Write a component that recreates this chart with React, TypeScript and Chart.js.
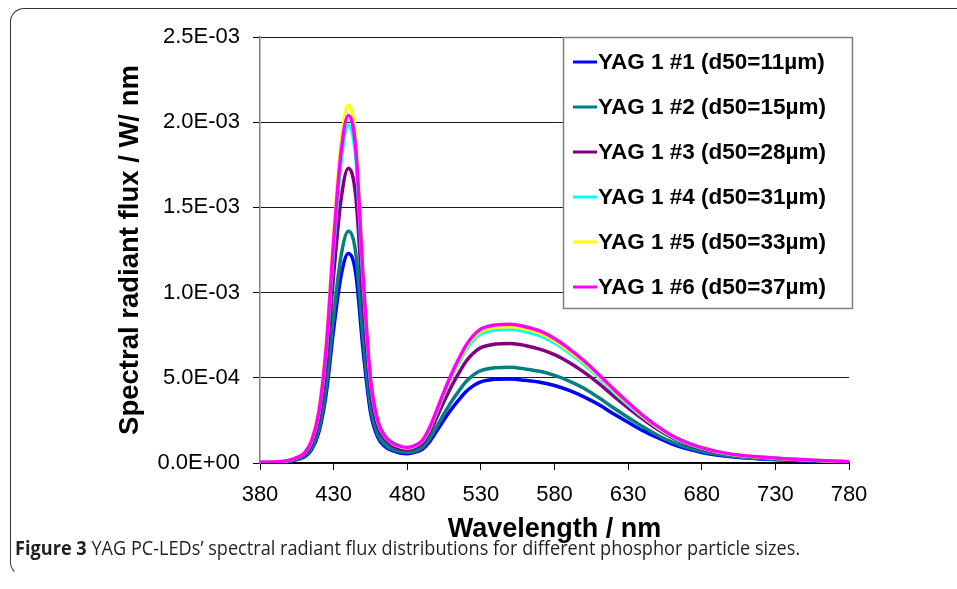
import React, { useEffect, useRef } from "react";
import { Chart, registerables } from "chart.js";

Chart.register(...registerables);

// Wavelength (nm)
const wavelengths = [
  380, 390, 400, 405, 410, 415, 420, 425, 430, 435, 440, 445, 450, 455, 460, 465, 470, 475, 480, 485,
  490, 495, 500, 505, 510, 515, 520, 525, 530, 540, 550, 560, 570, 580, 590, 600, 610, 620, 630, 640,
  650, 660, 670, 680, 690, 700, 720, 740, 760, 780,
];

// Spectral radiant flux, in units of 1E-03 W/nm
const yag1_1 = [
  0.003, 0.004, 0.010, 0.020, 0.035, 0.077, 0.181, 0.409, 0.784, 1.097, 1.230, 1.115, 0.663, 0.301, 0.150, 0.095, 0.072, 0.059, 0.055, 0.062,
  0.079, 0.123, 0.187, 0.254, 0.316, 0.370, 0.419, 0.454, 0.476, 0.491, 0.493, 0.485, 0.474, 0.455, 0.426, 0.388, 0.343, 0.289, 0.239, 0.190,
  0.148, 0.111, 0.083, 0.062, 0.047, 0.036, 0.024, 0.016, 0.010, 0.005,
];
const yag1_2 = [
  0.003, 0.004, 0.011, 0.022, 0.038, 0.085, 0.200, 0.453, 0.867, 1.213, 1.360, 1.234, 0.733, 0.334, 0.166, 0.106, 0.080, 0.067, 0.063, 0.070,
  0.090, 0.141, 0.214, 0.289, 0.360, 0.422, 0.478, 0.517, 0.542, 0.559, 0.562, 0.552, 0.538, 0.514, 0.481, 0.439, 0.384, 0.324, 0.267, 0.213,
  0.163, 0.122, 0.091, 0.069, 0.052, 0.040, 0.027, 0.018, 0.011, 0.006,
];
const yag1_3 = [
  0.004, 0.005, 0.014, 0.028, 0.049, 0.108, 0.254, 0.576, 1.102, 1.543, 1.730, 1.568, 0.933, 0.424, 0.211, 0.134, 0.101, 0.084, 0.078, 0.088,
  0.112, 0.176, 0.267, 0.362, 0.449, 0.527, 0.597, 0.646, 0.677, 0.698, 0.702, 0.690, 0.668, 0.636, 0.590, 0.533, 0.467, 0.394, 0.324, 0.258,
  0.198, 0.148, 0.110, 0.083, 0.063, 0.048, 0.032, 0.022, 0.013, 0.007,
];
const yag1_4 = [
  0.004, 0.006, 0.016, 0.032, 0.056, 0.124, 0.291, 0.659, 1.261, 1.765, 1.980, 1.795, 1.067, 0.484, 0.240, 0.152, 0.114, 0.095, 0.088, 0.098,
  0.126, 0.196, 0.298, 0.404, 0.502, 0.589, 0.667, 0.722, 0.758, 0.781, 0.785, 0.772, 0.747, 0.704, 0.646, 0.579, 0.502, 0.419, 0.342, 0.270,
  0.207, 0.155, 0.115, 0.087, 0.066, 0.050, 0.034, 0.023, 0.014, 0.008,
];
const yag1_5 = [
  0.005, 0.006, 0.017, 0.033, 0.059, 0.131, 0.308, 0.699, 1.337, 1.873, 2.099, 1.903, 1.131, 0.513, 0.253, 0.160, 0.119, 0.098, 0.090, 0.100,
  0.128, 0.200, 0.304, 0.412, 0.512, 0.600, 0.680, 0.736, 0.772, 0.796, 0.800, 0.786, 0.762, 0.718, 0.658, 0.590, 0.511, 0.427, 0.349, 0.275,
  0.211, 0.158, 0.118, 0.089, 0.067, 0.051, 0.034, 0.023, 0.014, 0.008,
];
const yag1_6 = [
  0.005, 0.006, 0.017, 0.032, 0.057, 0.128, 0.300, 0.679, 1.299, 1.819, 2.040, 1.849, 1.099, 0.499, 0.248, 0.157, 0.118, 0.099, 0.091, 0.102,
  0.130, 0.204, 0.309, 0.419, 0.521, 0.611, 0.692, 0.749, 0.786, 0.810, 0.814, 0.800, 0.775, 0.730, 0.670, 0.600, 0.520, 0.435, 0.355, 0.280,
  0.215, 0.160, 0.120, 0.090, 0.068, 0.052, 0.035, 0.024, 0.015, 0.008,
];

const seriesValues = [yag1_1, yag1_2, yag1_3, yag1_4, yag1_5, yag1_6];
const seriesLabels = [
  "YAG 1 #1 (d50=11µm)",
  "YAG 1 #2 (d50=15µm)",
  "YAG 1 #3 (d50=28µm)",
  "YAG 1 #4 (d50=31µm)",
  "YAG 1 #5 (d50=33µm)",
  "YAG 1 #6 (d50=37µm)",
];
const seriesColors = ["#0000FF", "#008080", "#800080", "#00FFFF", "#FFFF00", "#FF00FF"];

const unit = 1e-3;
const xMin = 380;
const xMax = 780;
const xStep = 50;
const yMin = 0;
const yMax = 2.5e-3;
const yStep = 5e-4;

const xTitle = "Wavelength / nm";
const yTitle = "Spectral radiant flux / W/ nm";
const captionBold = "Figure 3";
const captionText = " YAG PC-LEDs\u2019 spectral radiant flux distributions for different phosphor particle sizes.";

const FONT = "'Liberation Sans', Arial, Helvetica, sans-serif";

function fmtSci(v: number): string {
  if (Math.abs(v) < 1e-12) return "0.0E+00";
  const s = v.toExponential(1);
  const [m, e] = s.split("e");
  const n = parseInt(e, 10);
  const sign = n < 0 ? "-" : "+";
  return `${m}E${sign}${String(Math.abs(n)).padStart(2, "0")}`;
}

const boxLegend = {
  id: "boxLegend",
  afterDatasetsDraw(chart: any) {
    const { ctx, chartArea } = chart;
    const x0 = chartArea.right - 286;
    const y0 = chartArea.top;
    const w = 289;
    const h = 271;
    ctx.save();
    ctx.fillStyle = "#ffffff";
    ctx.fillRect(x0, y0, w, h);
    ctx.strokeStyle = "#7f7f7f";
    ctx.lineWidth = 1.5;
    ctx.strokeRect(x0 + 0.5, y0 + 0.5, w, h);
    ctx.font = `bold 22.5px ${FONT}`;
    ctx.textBaseline = "middle";
    ctx.textAlign = "left";
    chart.data.datasets.forEach((ds: any, i: number) => {
      const cy = y0 + 25 + i * 45;
      ctx.strokeStyle = ds.borderColor;
      ctx.lineWidth = 3;
      ctx.beginPath();
      ctx.moveTo(x0 + 10, cy);
      ctx.lineTo(x0 + 34, cy);
      ctx.stroke();
      ctx.fillStyle = "#000000";
      ctx.fillText(ds.label, x0 + 35, cy + 1);
    });
    ctx.restore();
  },
};

export default function App() {
  const canvasRef = useRef<HTMLCanvasElement | null>(null);

  useEffect(() => {
    if (!canvasRef.current) return;
    const datasets = seriesValues.map((vals, i) => ({
      label: seriesLabels[i],
      data: wavelengths.map((x, j) => ({ x, y: vals[j] * unit })),
      borderColor: seriesColors[i],
      backgroundColor: seriesColors[i],
      borderWidth: 3.5,
      pointRadius: 0,
      fill: false,
      cubicInterpolationMode: "monotone" as const,
      order: seriesValues.length - i,
    }));

    const chart = new Chart(canvasRef.current, {
      type: "line",
      data: { datasets },
      plugins: [boxLegend],
      options: {
        animation: false,
        responsive: false,
        maintainAspectRatio: false,
        devicePixelRatio: 1,
        layout: { padding: { left: 100, right: 108, top: 37, bottom: 0 } },
        plugins: {
          legend: { display: false },
          tooltip: { enabled: false },
        },
        scales: {
          x: {
            type: "linear",
            min: xMin,
            max: xMax,
            ticks: {
              stepSize: xStep,
              color: "#000",
              font: { family: FONT, size: 22 },
              padding: 12,
              maxRotation: 0,
              autoSkip: false,
              callback: (v: any) => String(v),
            },
            grid: {
              drawOnChartArea: false,
              drawTicks: true,
              tickLength: 7,
              tickColor: "#000",
              tickWidth: 1,
            },
            border: { display: true, color: "#000", width: 1.5 },
            title: {
              display: true,
              text: xTitle,
              color: "#000",
              font: { family: FONT, size: 27, weight: "bold" },
              padding: { top: 0, bottom: 43 },
            },
            afterFit: (s: any) => {
              s.height = 126;
            },
          },
          y: {
            type: "linear",
            min: yMin,
            max: yMax,
            ticks: {
              stepSize: yStep,
              color: "#000",
              font: { family: FONT, size: 22 },
              padding: 13,
              callback: (v: any) => fmtSci(Number(v)),
            },
            grid: {
              drawOnChartArea: true,
              color: "#1a1a1a",
              lineWidth: 1,
              drawTicks: true,
              tickLength: 7,
              tickColor: "#000",
            },
            border: { display: true, color: "#808080", width: 1.5 },
            title: {
              display: true,
              text: yTitle,
              color: "#000",
              font: { family: FONT, size: 27.5, weight: "bold" },
              padding: { top: 14, bottom: 0 },
            },
            afterFit: (s: any) => {
              s.width = 160;
            },
          },
        },
      },
    });
    return () => chart.destroy();
  }, []);

  return (
    <div
      style={{
        position: "absolute",
        left: 0,
        top: 0,
        width: 957,
        height: 589,
        overflow: "hidden",
        background: "#fff",
      }}
    >
      <div
        style={{
          position: "absolute",
          left: 10,
          top: 8,
          width: 1000,
          height: 568,
          borderTop: "1.5px solid #333",
          borderLeft: "1.5px solid #333",
          borderBottom: "1.5px solid transparent",
          borderTopLeftRadius: 14,
          borderBottomLeftRadius: 14,
          boxSizing: "border-box",
        }}
      />
      <canvas
        ref={canvasRef}
        width={957}
        height={589}
        style={{ position: "absolute", left: 0, top: 0, width: 957, height: 589 }}
      />
      <div
        style={{
          position: "absolute",
          left: 15,
          top: 534,
          whiteSpace: "nowrap",
          fontFamily: "'Open Sans', 'Noto Sans', sans-serif",
          fontSize: 19.5,
          color: "#231f20",
          transformOrigin: "left top",
          transform: "scaleX(0.93)",
        }}
      >
        <span style={{ fontWeight: 700 }}>{captionBold}</span>
        {captionText}
      </div>
    </div>
  );
}
